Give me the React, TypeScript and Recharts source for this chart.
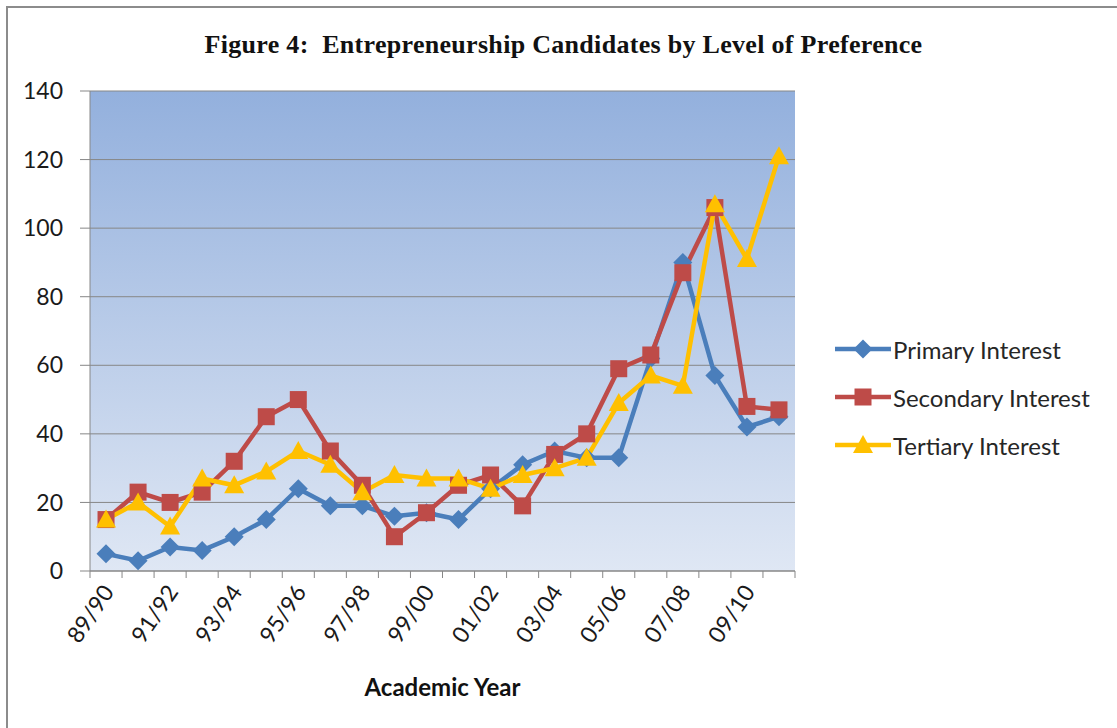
import React from "react"
import { LineChart, Line, XAxis, YAxis, CartesianGrid, Legend } from "recharts"

const years = [
  "89/90", "90/91", "91/92", "92/93", "93/94", "94/95", "95/96", "96/97",
  "97/98", "98/99", "99/00", "00/01", "01/02", "02/03", "03/04", "04/05",
  "05/06", "06/07", "07/08", "08/09", "09/10", "10/11",
]
const primary = [5, 3, 7, 6, 10, 15, 24, 19, 19, 16, 17, 15, 24, 31, 35, 33, 33, 62, 90, 57, 42, 45]
const secondary = [15, 23, 20, 23, 32, 45, 50, 35, 25, 10, 17, 25, 28, 19, 34, 40, 59, 63, 87, 106, 48, 47]
const tertiary = [15, 20, 13, 27, 25, 29, 35, 31, 23, 28, 27, 27, 24, 28, 30, 33, 49, 57, 54, 107, 91, 121]
const yTicks = [0, 20, 40, 60, 80, 100, 120, 140]

const W = 1117
const H = 728
const M = { top: 91, right: 322, bottom: 0, left: 0 }
const Y_W = 90
const X_H = 157
const PLOT_W = W - M.right - Y_W
const BAND = PLOT_W / years.length

const BLUE = "#4a7ebb"
const RED = "#be4b48"
const GOLD = "#ffc000"
const GRID = "#878787"
const FONT = "Lato, 'Open Sans', sans-serif"

const data = years.map((y, i) => ({
  year: y,
  primary: primary[i],
  secondary: secondary[i],
  tertiary: tertiary[i],
}))

type Shape = "diamond" | "square" | "triangle"

function Marker({ cx, cy, shape, color }: { cx: number; cy: number; shape: Shape; color: string }) {
  if (cx == null || cy == null) return null
  if (shape === "diamond") {
    const r = 9.5
    return <polygon points={`${cx},${cy - r} ${cx + r},${cy} ${cx},${cy + r} ${cx - r},${cy}`} fill={color} />
  }
  if (shape === "square") {
    const r = 8.5
    return <rect x={cx - r} y={cy - r} width={r * 2} height={r * 2} fill={color} />
  }
  const r = 10
  return <polygon points={`${cx},${cy - r} ${cx + r},${cy + r * 0.8} ${cx - r},${cy + r * 0.8}`} fill={color} />
}

const dotFor = (shape: Shape, color: string) => (p: any) => (
  <Marker key={`${shape}-${p.index}`} cx={p.cx} cy={p.cy} shape={shape} color={color} />
)

function XTick(props: any) {
  const { x, y, index, payload } = props
  const ax = x + 9
  const ay = y + 21
  return (
    <g>
      <line x1={x - BAND / 2} x2={x - BAND / 2} y1={y} y2={y + 7} stroke={GRID} />
      {index === years.length - 1 && (
        <line x1={x + BAND / 2} x2={x + BAND / 2} y1={y} y2={y + 7} stroke={GRID} />
      )}
      {index % 2 === 0 && (
        <text
          x={ax}
          y={ay}
          transform={`rotate(-56, ${ax}, ${ay})`}
          textAnchor="end"
          fontSize={23}
          fontFamily={FONT}
          fill="#1a1a1a"
        >
          {payload.value}
        </text>
      )}
    </g>
  )
}

const legendItems: { name: string; color: string; shape: Shape }[] = [
  { name: "Primary Interest", color: BLUE, shape: "diamond" },
  { name: "Secondary Interest", color: RED, shape: "square" },
  { name: "Tertiary Interest", color: GOLD, shape: "triangle" },
]

function LegendBox() {
  return (
    <div>
      {legendItems.map((it) => (
        <div key={it.name} style={{ display: "flex", alignItems: "center", height: 48 }}>
          <svg width={57} height={24}>
            <line x1={0} x2={56} y1={12} y2={12} stroke={it.color} strokeWidth={4.5} />
            <Marker cx={28} cy={12} shape={it.shape} color={it.color} />
          </svg>
          <span style={{ fontFamily: FONT, fontSize: 24, color: "#262626", marginLeft: 1 }}>{it.name}</span>
        </div>
      ))}
    </div>
  )
}

export default function App() {
  return (
    <div style={{ position: "absolute", left: 0, top: 0, width: W, height: H, background: "#fff" }}>
      <div
        style={{
          position: "absolute",
          left: 6,
          top: 6,
          width: W,
          height: H,
          borderLeft: "2px solid #8c8c8c",
          borderTop: "2px solid #8c8c8c",
        }}
      />
      <div
        style={{
          position: "absolute",
          left: 0,
          top: 30,
          width: W + 10,
          textAlign: "center",
          fontFamily: "'Liberation Serif', 'Times New Roman', serif",
          fontWeight: "bold",
          fontSize: 26,
          letterSpacing: 0.3,
          color: "#111",
          whiteSpace: "nowrap",
        }}
      >
        Figure 4:&nbsp; Entrepreneurship Candidates by Level of Preference
      </div>
      <div style={{ position: "absolute", left: 0, top: 0 }}>
        <LineChart width={W} height={H} data={data} margin={M}>
          <defs>
            <linearGradient id="plotBg" x1="0" y1="0" x2="0" y2="1">
              <stop offset="0%" stopColor="#93b0dd" />
              <stop offset="100%" stopColor="#dfe7f4" />
            </linearGradient>
          </defs>
          <CartesianGrid vertical={false} stroke={GRID} fill="url(#plotBg)" fillOpacity={1} />
          <XAxis
            dataKey="year"
            interval={0}
            height={X_H}
            padding={{ left: BAND / 2, right: BAND / 2 }}
            tickSize={0}
            tickMargin={0}
            tickLine={false}
            axisLine={{ stroke: GRID }}
            tick={<XTick />}
            label={{
              value: "Academic Year",
              position: "insideBottom",
              offset: 32,
              fontFamily: FONT,
              fontSize: 24,
              fontWeight: "bold",
              fill: "#111",
            }}
          />
          <YAxis
            width={Y_W}
            domain={[0, 140]}
            ticks={yTicks}
            tickSize={10}
            tickMargin={17}
            axisLine={{ stroke: GRID }}
            tickLine={{ stroke: GRID }}
            tick={{ fontFamily: FONT, fontSize: 23, fill: "#1a1a1a" }}
          />
          <Legend
            layout="vertical"
            align="center"
            verticalAlign="middle"
            content={<LegendBox />}
            wrapperStyle={{ left: 835, top: 325, width: 282 }}
          />
          <Line
            dataKey="primary"
            name="Primary Interest"
            stroke={BLUE}
            strokeWidth={4.5}
            dot={dotFor("diamond", BLUE)}
            activeDot={false}
            isAnimationActive={false}
          />
          <Line
            dataKey="secondary"
            name="Secondary Interest"
            stroke={RED}
            strokeWidth={4.5}
            dot={dotFor("square", RED)}
            activeDot={false}
            isAnimationActive={false}
          />
          <Line
            dataKey="tertiary"
            name="Tertiary Interest"
            stroke={GOLD}
            strokeWidth={4.5}
            dot={dotFor("triangle", GOLD)}
            activeDot={false}
            isAnimationActive={false}
          />
        </LineChart>
      </div>
    </div>
  )
}
